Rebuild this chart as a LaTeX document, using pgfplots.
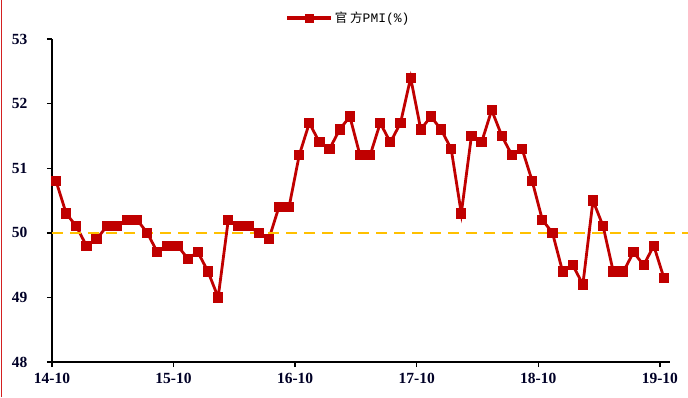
\documentclass[border=0pt]{standalone}
\usepackage{fontspec}
\setmainfont{Liberation Serif}
\newfontfamily\cjk{Noto Sans CJK SC}
\newfontfamily\mono{Liberation Mono}
\usepackage{pgfplots}
\pgfplotsset{compat=1.18}
\definecolor{pmired}{HTML}{C00000}
\definecolor{lineyellow}{HTML}{FFC000}
\definecolor{edgered}{HTML}{D42020}
\begin{document}
\begin{tikzpicture}[x=1pt,y=1pt]
\useasboundingbox (0,0) rectangle (688,397);
\draw[edgered, line width=1.2pt] (1.5,0) -- (1.5,397);
\begin{axis}[
  at={(52pt,35pt)}, anchor=south west,
  scale only axis, width=618pt, height=323pt,
  xmin=-0.4, xmax=60.6, ymin=48, ymax=53,
  axis x line=bottom, axis y line=left,
  axis line style={-, line width=1.6pt, black},
  xtick={-0.4,11.6,23.6,35.6,47.6,59.6},
  xticklabels={14-10,15-10,16-10,17-10,18-10,19-10},
  ytick={48,49,50,51,52,53},
  tick align=outside, major tick length=5pt,
  tick style={line width=1.4pt, black},
  /pgf/number format/assume math mode=true,
  ticklabel style={font=\fontsize{15.5}{15.5}\selectfont\bfseries, text=black!85!blue},
  xticklabel style={yshift=-3pt},
  yticklabel style={xshift=-16pt},
  clip=false,
  legend style={at={(0.48,1)}, anchor=center, yshift=21pt, draw=none,
    font=\fontsize{12.5}{14}\selectfont, legend cell align=left,
    inner sep=0pt},
  legend image code/.code={
    \draw[#1, line width=3.2pt, mark size=4pt, mark repeat=2, mark phase=2]
      plot coordinates {(0pt,0pt) (22pt,0pt) (44pt,0pt)};},
]
\addplot[pmired, line width=2.8pt, mark=square*, mark size=4.6pt,
  mark options={line width=0pt}] coordinates {
(0,50.8) (1,50.3) (2,50.1) (3,49.8) (4,49.9) (5,50.1) (6,50.1) (7,50.2) (8,50.2)
(9,50.0) (10,49.7) (11,49.8) (12,49.8) (13,49.6) (14,49.7) (15,49.4) (16,49.0)
(17,50.2) (18,50.1) (19,50.1) (20,50.0) (21,49.9) (22,50.4) (23,50.4) (24,51.2)
(25,51.7) (26,51.4) (27,51.3) (28,51.6) (29,51.8) (30,51.2) (31,51.2) (32,51.7)
(33,51.4) (34,51.7) (35,52.4) (36,51.6) (37,51.8) (38,51.6) (39,51.3) (40,50.3)
(41,51.5) (42,51.4) (43,51.9) (44,51.5) (45,51.2) (46,51.3) (47,50.8) (48,50.2)
(49,50.0) (50,49.4) (51,49.5) (52,49.2) (53,50.5) (54,50.1) (55,49.4) (56,49.4)
(57,49.7) (58,49.5) (59,49.8) (60,49.3)};
\addlegendentry{{\cjk 官\ 方}{\mono\fontsize{13}{14}\selectfont PMI(\%)}}
\addplot[lineyellow, line width=2.2pt, dash pattern=on 11pt off 7pt, forget plot]
  coordinates {(-0.4,50) (62.4,50)};
\end{axis}
\end{tikzpicture}
\end{document}
